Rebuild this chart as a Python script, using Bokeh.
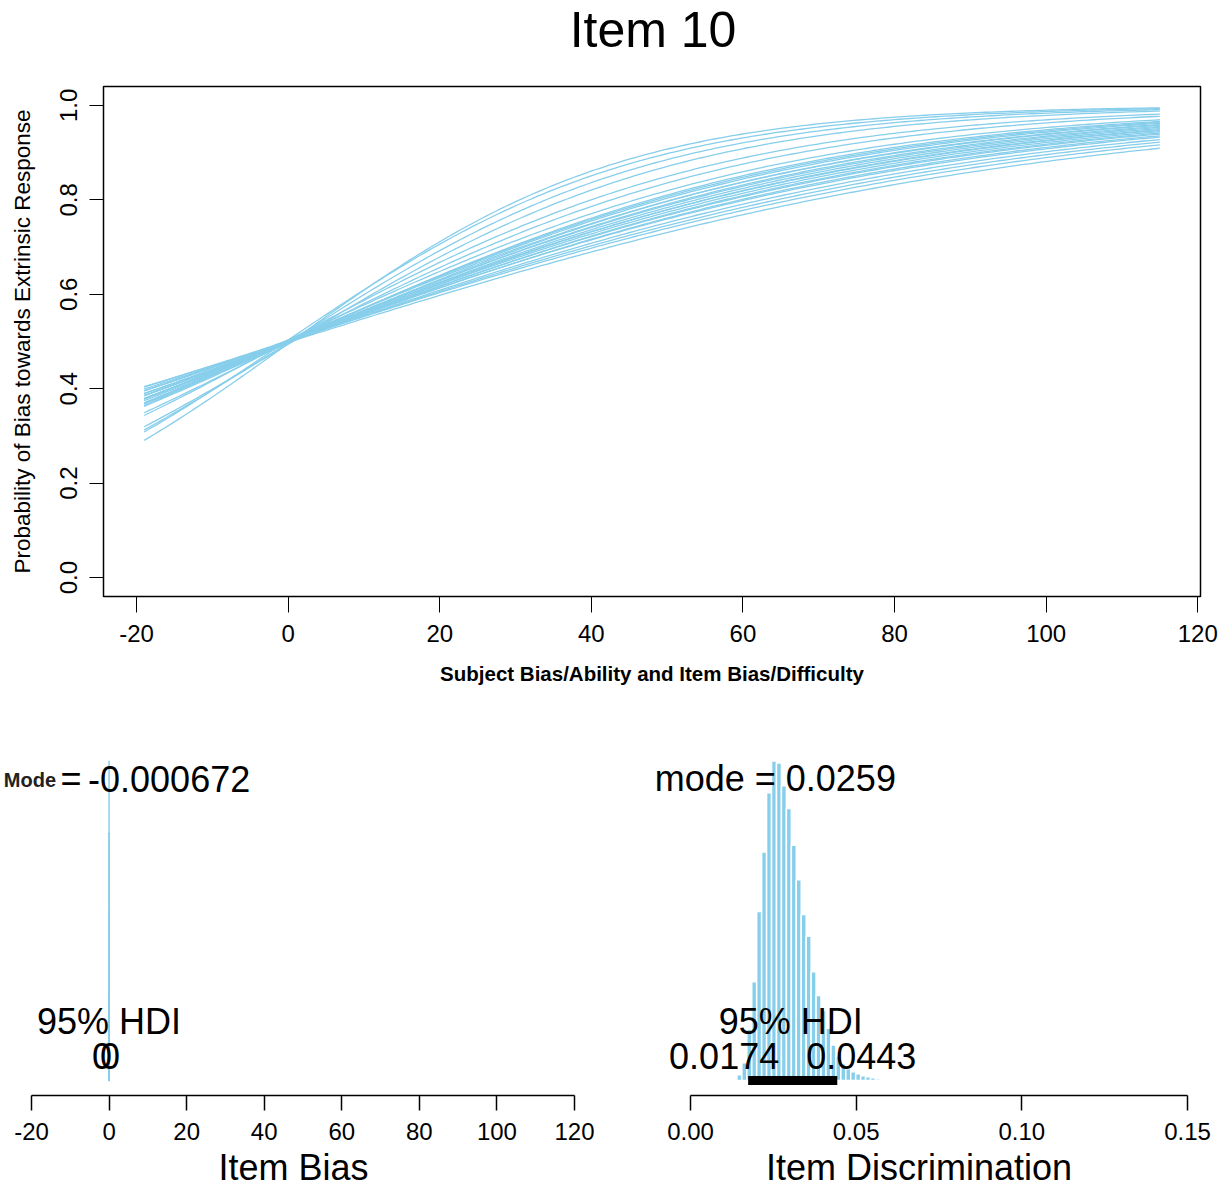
import numpy as np
from bokeh.plotting import figure
from bokeh.models import Range1d, FixedTicker, Label, PrintfTickFormatter, ColumnDataSource
from bokeh.layouts import column, row
from bokeh.embed import file_html
from bokeh.resources import INLINE

SKY = "#87CEEB"
FONT = "Liberation Sans"

# ---------------- item characteristic curves (posterior draws) ----------------
curve_discrimination = [0.0460, 0.0432, 0.0410, 0.0386, 0.0345, 0.0326, 0.0300,
                        0.0292, 0.0286, 0.0281, 0.0276, 0.0271, 0.0267, 0.0262,
                        0.0258, 0.0254, 0.0250, 0.0246, 0.0242, 0.0238, 0.0233,
                        0.0228, 0.0222, 0.0215, 0.0208, 0.0201]
curve_bias = [0.4, -0.3, 0.2, 0.6, -0.2, 0.1, -0.4, 0.3, 0.0, -0.1, 0.5, -0.5, 0.2,
              -0.2, 0.1, 0.4, -0.3, 0.0, 0.3, -0.1, 0.2, -0.4, 0.1, 0.0, -0.2, 0.3]
ability_min, ability_max = -19, 115
top_x_ticks = [-20, 0, 20, 40, 60, 80, 100, 120]
top_y_ticks = [0.0, 0.2, 0.4, 0.6, 0.8, 1.0]

# ---------------- item bias posterior ----------------
bias_mode = -0.000672
bias_hdi = [0.0, 0.0]
bias_hdi_text = ["0", "0"]
bias_bin_start = -0.0045
bias_bin_width = 0.0008
bias_counts = [3, 40, 380, 1650, 3100, 2400, 820, 140, 12]
bias_ticks = [-20, 0, 20, 40, 60, 80, 100, 120]

# ---------------- item discrimination posterior ----------------
disc_mode = 0.0259
disc_hdi = [0.0174, 0.0443]
disc_hdi_text = ["0.0174", "0.0443"]
disc_bin_start = 0.0140
disc_bin_width = 0.001494
disc_counts = [120, 360, 1040, 2000, 3420, 4620, 5820, 6460, 6420, 5960, 5500,
               4760, 4060, 3360, 2920, 2200, 1720, 1420, 1060, 720, 500, 340, 240,
               180, 140, 100, 80, 60, 40, 20]
disc_ticks = [0.0, 0.05, 0.10, 0.15]


def style_axis(ax, size="24px"):
    ax.major_label_text_font = FONT
    ax.major_label_text_font_size = size
    ax.major_label_text_color = "black"
    ax.axis_label_text_font = FONT
    ax.axis_label_text_color = "black"
    ax.axis_line_color = "black"
    ax.major_tick_line_color = "black"
    ax.minor_tick_line_color = None
    ax.major_tick_in = 0


# ---------------- title strip ----------------
title_fig = figure(width=1227, height=82, x_range=Range1d(0, 1), y_range=Range1d(0, 82),
                   output_backend="svg", toolbar_location=None,
                   x_axis_location=None, y_axis_location=None,
                   min_border_left=0, min_border_right=0,
                   min_border_top=0, min_border_bottom=0)
title_fig.grid.visible = False
title_fig.outline_line_color = None
title_fig.add_layout(Label(x=0.5, y=53, x_offset=1, text="Item 10", text_font=FONT,
                           text_font_size="50px", text_align="center",
                           text_baseline="middle", text_color="black"))

# ---------------- item characteristic curves panel ----------------
pad = 0.04 * (ability_max - ability_min)
top = figure(width=1227, height=618,
             x_range=Range1d(ability_min - pad, ability_max + pad),
             y_range=Range1d(-0.04, 1.04),
             output_backend="svg", toolbar_location=None,
             min_border_left=103, min_border_right=27,
             min_border_top=4, min_border_bottom=104)
top.grid.visible = False
top.outline_line_color = "black"
top.outline_line_width = 1.5

xs = np.linspace(ability_min, ability_max, 200)
curve_x, curve_y = [], []
for a, b in zip(curve_discrimination, curve_bias):
    curve_x.append(xs)
    curve_y.append(1.0 / (1.0 + np.exp(-a * (xs - b))))
top.multi_line(xs=curve_x, ys=curve_y, line_color=SKY, line_width=1.3)

xa = top.xaxis[0]
style_axis(xa)
xa.ticker = FixedTicker(ticks=top_x_ticks)
xa.formatter = PrintfTickFormatter(format="%d")
xa.major_tick_out = 16
xa.major_label_standoff = 12
xa.axis_label = "Subject Bias/Ability and Item Bias/Difficulty"
xa.axis_label_text_font_size = "20.5px"
xa.axis_label_text_font_style = "bold"
xa.axis_label_standoff = 17

ya = top.yaxis[0]
style_axis(ya)
ya.ticker = FixedTicker(ticks=top_y_ticks)
ya.formatter = PrintfTickFormatter(format="%.1f")
ya.major_label_orientation = "vertical"
ya.major_tick_out = 14
ya.major_label_standoff = 12
ya.axis_label = "Probability of Bias towards Extrinsic Response"
ya.axis_label_text_font_size = "22.5px"
ya.axis_label_text_font_style = "normal"
ya.axis_label_standoff = 23


# ---------------- posterior histogram panels ----------------
def hist_panel(width, frame_left, frame_right, tick_lo, tick_hi, axis_lo_px, axis_hi_px,
               edges_start, bin_w, counts, edge_color, ticks, label, fmt):
    frame_w = width - frame_left - frame_right
    scale = (axis_hi_px - axis_lo_px) / (tick_hi - tick_lo)
    x0 = tick_lo - (axis_lo_px - frame_left) / scale
    x1 = x0 + frame_w / scale
    k = 322.0 / max(counts)          # px per count
    p = figure(width=width, height=490, x_range=Range1d(x0, x1),
               y_range=Range1d(-15.0 / k, 373.0 / k),
               output_backend="svg", toolbar_location=None, y_axis_location=None,
               min_border_left=frame_left, min_border_right=frame_right,
               min_border_top=10, min_border_bottom=92)
    p.grid.visible = False
    p.outline_line_color = None
    lefts = [edges_start + i * bin_w for i in range(len(counts))]
    src = ColumnDataSource(dict(left=lefts, right=[l + bin_w for l in lefts],
                                top=counts, bottom=[0] * len(counts)))
    p.quad(left="left", right="right", top="top", bottom="bottom", source=src,
           fill_color=SKY, line_color=edge_color, line_width=1.5)
    ax = p.xaxis[0]
    style_axis(ax)
    ax.ticker = FixedTicker(ticks=ticks)
    ax.formatter = PrintfTickFormatter(format=fmt)
    ax.bounds = (tick_lo, tick_hi)
    ax.axis_line_width = 1.5
    ax.major_tick_line_width = 1.5
    ax.major_tick_out = 15
    ax.major_label_standoff = 12
    ax.major_label_text_line_height = 0.9
    ax.axis_label = label
    ax.axis_label_text_font_size = "36px"
    ax.axis_label_text_font_style = "normal"
    ax.axis_label_text_line_height = 0.9
    ax.axis_label_standoff = 4
    return p


def add_text(p, x, text, dx, dy, size="36px", align="center", style="normal", color="black"):
    p.add_layout(Label(x=x, y=0, x_offset=dx, y_offset=dy, text=text, text_font=FONT,
                       text_font_size=size, text_align=align, text_baseline="middle",
                       text_font_style=style, text_color=color))


bl = hist_panel(613, 1, 28, -20, 120, 31, 574, bias_bin_start, bias_bin_width,
                bias_counts, SKY, bias_ticks, "Item Bias", "%d")
bl.segment(x0=[bias_hdi[0]], y0=[0], x1=[bias_hdi[1]], y1=[0], line_color="black",
           line_width=9, line_cap="butt")
add_text(bl, bias_mode, "Mode", -53, 301, size="20px", align="right", style="bold",
         color="#222222")
add_text(bl, bias_mode, "=", -38, 302)
add_text(bl, bias_mode, "-0.000672", -21, 302, align="left")
add_text(bl, float(np.mean(bias_hdi)), "95% HDI", 0, 59)
add_text(bl, bias_hdi[0], bias_hdi_text[0], -7, 25)
add_text(bl, bias_hdi[1], bias_hdi_text[1], 1, 25)

br = hist_panel(614, 36, 39, 0.0, 0.15, 77, 574, disc_bin_start, disc_bin_width,
                disc_counts, "white", disc_ticks, "Item Discrimination", "%.2f")
br.segment(x0=[disc_hdi[0]], y0=[0], x1=[disc_hdi[1]], y1=[0], line_color="black",
           line_width=9, line_cap="butt")
add_text(br, disc_mode, "mode = 0.0259", -1, 302)
add_text(br, float(np.mean(disc_hdi)), "95% HDI", -2, 59)
add_text(br, disc_hdi[0], disc_hdi_text[0], -24, 25)
add_text(br, disc_hdi[1], disc_hdi_text[1], 24, 25)

layout = column(title_fig, top, row(bl, br, spacing=0), spacing=0)
open("out.html", "w").write(file_html(layout, INLINE))
